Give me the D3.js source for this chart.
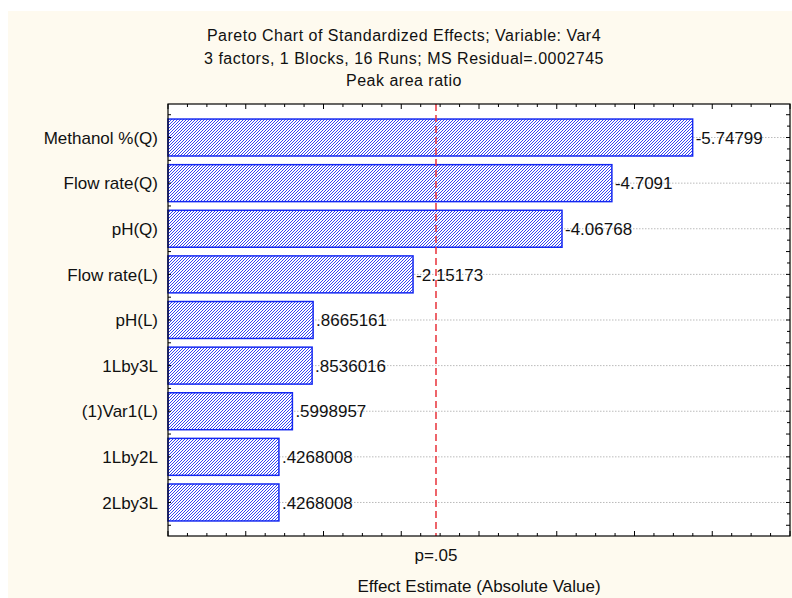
<!DOCTYPE html>
<html lang="en">
<head>
<meta charset="UTF-8">
<title>Pareto Chart of Standardized Effects</title>
<script src="https://d3js.org/d3.v7.min.js"></script>
<style>
    body { margin: 0; background: #fff; }
    text { font-family: "Liberation Sans", Arial, sans-serif; fill: #111; }
</style>
</head>
<body>
<script>
    // data
    const factors = ["Methanol %(Q)", "Flow rate(Q)", "pH(Q)", "Flow rate(L)", "pH(L)",
                     "1Lby3L", "(1)Var1(L)", "1Lby2L", "2Lby3L"];
    const effects = [-5.74799, -4.7091, -4.06768, -2.15173, 0.8665161,
                     0.8536016, 0.5998957, 0.4268008, 0.4268008];
    const pCrit = 2.446912;   // t(6), p=.05
    const titleLines = ["Pareto Chart of Standardized Effects; Variable: Var4",
                        "3 factors, 1 Blocks, 16 Runs; MS Residual=.0002745",
                        "Peak area ratio"];

    const W = 792, H = 598;
    const plot = { left: 168, right: 790, top: 104, bottom: 536 };

    const svg = d3.select("body").append("svg")
        .attr("width", W)
        .attr("height", H);

    // cream backdrop
    svg.append("rect")
        .attr("x", 8).attr("y", 11)
        .attr("width", W - 8).attr("height", H - 11)
        .attr("fill", "#fefaef");

    const defs = svg.append("defs");
    const pat = defs.append("pattern")
        .attr("id", "hatch")
        .attr("patternUnits", "userSpaceOnUse")
        .attr("width", 3).attr("height", 3);
    pat.append("rect").attr("width", 3).attr("height", 3).attr("fill", "#fff");
    pat.append("path")
        .attr("d", "M0,3 L3,0 M-1,1 L1,-1 M2,4 L4,2")
        .attr("stroke", "#1f2ff0")
        .attr("stroke-width", 0.9);

    const x = d3.scaleLinear().domain([-1, 7]).range([plot.left, plot.right]);
    const y = d3.scaleBand().domain(factors)
        .range([plot.top, plot.bottom])
        .paddingInner(0.19)
        .paddingOuter(0.33);

    const g = svg.append("g");

    g.append("rect")
        .attr("x", plot.left).attr("y", plot.top)
        .attr("width", plot.right - plot.left)
        .attr("height", plot.bottom - plot.top)
        .attr("fill", "#fff");

    // dotted grid at band centres
    g.selectAll(".grid")
        .data(factors)
        .enter()
        .append("line")
        .attr("x1", plot.left).attr("x2", plot.right)
        .attr("y1", d => y(d) + y.bandwidth() / 2)
        .attr("y2", d => y(d) + y.bandwidth() / 2)
        .attr("stroke", "#bbb")
        .attr("stroke-dasharray", "1.5,1.5");

    // bars
    g.selectAll(".bar")
        .data(factors)
        .enter()
        .append("rect")
        .attr("x", x(-1))
        .attr("y", d => y(d))
        .attr("width", (d, i) => x(Math.abs(effects[i])) - x(-1))
        .attr("height", y.bandwidth())
        .attr("fill", "url(#hatch)")
        .attr("stroke", "#1428f2")
        .attr("stroke-width", 1.5);

    const fmt = v => String(v).replace(/^(-?)0\./, "$1.");

    g.selectAll(".val")
        .data(factors)
        .enter()
        .append("text")
        .attr("x", (d, i) => x(Math.abs(effects[i])) + 3)
        .attr("y", d => y(d) + y.bandwidth() / 2)
        .attr("dy", "0.36em")
        .style("font-size", "17px")
        .text((d, i) => fmt(effects[i]));

    g.selectAll(".cat")
        .data(factors)
        .enter()
        .append("text")
        .attr("x", plot.left - 10)
        .attr("y", d => y(d) + y.bandwidth() / 2)
        .attr("dy", "0.36em")
        .attr("text-anchor", "end")
        .style("font-size", "17px")
        .text(d => d);

    // critical value line
    g.append("line")
        .attr("x1", x(pCrit)).attr("x2", x(pCrit))
        .attr("y1", plot.top).attr("y2", plot.bottom)
        .attr("stroke", "#e8323a")
        .attr("stroke-width", 1.5)
        .attr("stroke-dasharray", "7,4");

    // frame
    g.append("rect")
        .attr("x", plot.left).attr("y", plot.top)
        .attr("width", plot.right - plot.left)
        .attr("height", plot.bottom - plot.top)
        .attr("fill", "none")
        .attr("stroke", "#000")
        .attr("stroke-width", 1.2);

    // inward ticks: top/bottom
    const xMinor = d3.range(-1, 7.001, 0.25);
    [plot.top, plot.bottom].forEach((yy, k) => {
        const dir = k === 0 ? 1 : -1;
        g.selectAll(null)
            .data(xMinor)
            .enter()
            .append("line")
            .attr("x1", d => x(d)).attr("x2", d => x(d))
            .attr("y1", yy)
            .attr("y2", d => yy + dir * (Math.abs(d - Math.round(d)) < 1e-9 ? 5 : 3))
            .attr("stroke", "#000");
    });

    // inward ticks: left (half step) and right (quarter step)
    const step = y.step();
    const yStart = y(factors[0]) + y.bandwidth() / 2;
    const leftTicks = d3.range(-2, 19).map(i => yStart + i * step / 2)
        .filter(v => v > plot.top + 1 && v < plot.bottom - 1);
    const rightTicks = d3.range(-4, 37).map(i => yStart + i * step / 4)
        .filter(v => v > plot.top + 1 && v < plot.bottom - 1);

    g.selectAll(null).data(leftTicks).enter().append("line")
        .attr("x1", plot.left).attr("x2", plot.left + 3)
        .attr("y1", d => d).attr("y2", d => d)
        .attr("stroke", "#000");
    g.selectAll(null).data(rightTicks).enter().append("line")
        .attr("x1", plot.right).attr("x2", (d, i) => plot.right - (i % 2 === 0 ? 4 : 3))
        .attr("y1", d => d).attr("y2", d => d)
        .attr("stroke", "#000");

    // titles
    svg.selectAll(".title")
        .data(titleLines)
        .enter()
        .append("text")
        .attr("x", 404)
        .attr("y", (d, i) => 41 + i * 22.5)
        .attr("text-anchor", "middle")
        .style("font-size", "16px")
        .style("letter-spacing", "0.5px")
        .text(d => d);

    svg.append("text")
        .attr("x", x(pCrit))
        .attr("y", 561)
        .attr("text-anchor", "middle")
        .style("font-size", "17px")
        .text("p=.05");

    svg.append("text")
        .attr("x", (plot.left + plot.right) / 2)
        .attr("y", 592)
        .attr("text-anchor", "middle")
        .style("font-size", "17px")
        .text("Effect Estimate (Absolute Value)");
</script>
</body>
</html>
